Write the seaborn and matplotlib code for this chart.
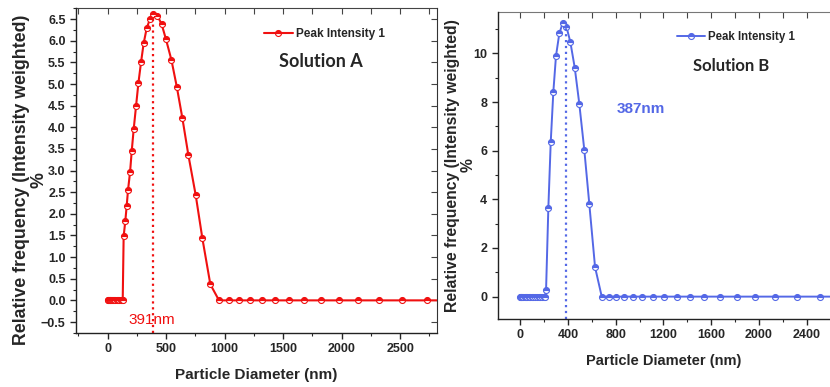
import matplotlib
matplotlib.use('Agg')
import matplotlib.pyplot as plt
from matplotlib.ticker import MultipleLocator
import seaborn as sns

sns.set_style('ticks')
plt.rcParams['font.family'] = ['Liberation Sans', 'DejaVu Sans']

# Solution A (red) - particle diameter (nm) vs relative frequency %
a_base_x = [0, 5, 10, 16, 22, 30, 38, 47, 56, 66, 76, 87, 98, 110, 120, 128]
a_peak_x = [136, 150, 162, 173, 191, 205, 222, 242, 262, 285, 307, 333, 361, 390,
            424, 461, 498, 544, 590, 638, 689, 752, 809, 877]
a_peak_y = [1.48, 1.83, 2.18, 2.54, 2.97, 3.45, 3.96, 4.49, 5.02, 5.51, 5.94, 6.29,
            6.50, 6.61, 6.58, 6.38, 6.03, 5.56, 4.94, 4.21, 3.36, 2.43, 1.43, 0.37]
a_tail_x = [951, 1034, 1120, 1216, 1319, 1430, 1550, 1678, 1820, 1977, 2142, 2321,
            2518, 2732, 2965]

# Solution B (blue)
b_base_x = [0, 6, 12, 20, 28, 38, 48, 60, 72, 85, 98, 112, 126, 140, 155, 170,
            185, 200, 209]
b_peak_x = [218, 237, 257, 279, 301, 329, 357, 388, 421, 458, 496, 538, 580, 628]
b_peak_y = [0.28, 3.63, 6.35, 8.43, 9.89, 10.82, 11.24, 11.10, 10.47, 9.41, 7.93,
            6.03, 3.80, 1.21]
b_tail_x = [684, 742, 803, 873, 943, 1024, 1113, 1208, 1311, 1423, 1542, 1671,
            1813, 1967, 2134, 2315, 2510, 2720]

peak_a = 391
peak_b = 387

red = '#f01010'
blue = '#5468e6'

xa = a_base_x + a_peak_x + a_tail_x
ya = [0.0] * len(a_base_x) + a_peak_y + [0.0] * len(a_tail_x)
xb = b_base_x + b_peak_x + b_tail_x
yb = [0.0] * len(b_base_x) + b_peak_y + [0.0] * len(b_tail_x)

fig = plt.figure(figsize=(8.3, 3.87), dpi=100)
ax1 = fig.add_axes([0.0916, 0.140, 0.4346, 0.8386])
ax2 = fig.add_axes([0.5996, 0.1757, 0.4004, 0.7933])


def draw(ax, x, y, col, lw):
    sns.lineplot(x=x, y=y, ax=ax, color=col, lw=lw, marker='o', markersize=4.3,
                 fillstyle='top', markerfacecolor=col, markerfacecoloralt='white',
                 markeredgecolor=col, markeredgewidth=0.8,
                 label='Peak Intensity 1', sort=False, estimator=None, clip_on=True)


draw(ax1, xa, ya, red, 1.5)
draw(ax2, xb, yb, blue, 1.4)

# left panel
ax1.set_xlim(-271, 2812)
ax1.set_ylim(-0.75, 6.75)
ax1.xaxis.set_major_locator(MultipleLocator(500))
ax1.xaxis.set_minor_locator(MultipleLocator(250))
ax1.yaxis.set_major_locator(MultipleLocator(0.5))
ax1.yaxis.set_minor_locator(MultipleLocator(0.25))
ax1.vlines(peak_a, -0.75, 6.61, colors=red, linestyles=':', lw=1.6)
ax1.text(380, -0.45, f'{peak_a}nm', color=red, fontsize=11, ha='center', va='center')
ax1.text(1823, 5.52, 'Solution A', fontsize=13, fontweight='bold', ha='center',
         va='center', family=['Lato', 'DejaVu Sans'])

# right panel
ax2.set_xlim(-187, 2594)
ax2.set_ylim(-0.92, 11.7)
ax2.xaxis.set_major_locator(MultipleLocator(400))
ax2.xaxis.set_minor_locator(MultipleLocator(200))
ax2.yaxis.set_major_locator(MultipleLocator(2))
ax2.yaxis.set_minor_locator(MultipleLocator(1))
ax2.vlines(peak_b, -0.92, 11.24, colors=blue, linestyles=':', lw=1.6)
ax2.text(1013, 7.7, f'{peak_b}nm', color=blue, fontsize=11, fontweight='bold',
         ha='center', va='center')
ax2.text(1764, 9.49, 'Solution B', fontsize=12, fontweight='bold', ha='center',
         va='center', family=['Lato', 'DejaVu Sans'])

for ax, fs, yfs in [(ax1, 11, 12.8), (ax2, 10.5, 11.3)]:
    ax.set_xlabel('Particle Diameter (nm)', fontsize=fs, fontweight='bold', labelpad=9)
    ax.set_ylabel('Relative frequency (Intensity weighted)', fontsize=yfs,
                  fontweight='bold')
    ax.tick_params(which='major', direction='out', length=4, width=1, labelsize=9)
    ax.tick_params(which='minor', direction='out', length=2.5, width=0.8)
    for lab in ax.get_xticklabels() + ax.get_yticklabels():
        lab.set_fontweight('bold')
    ax.spines['top'].set_visible(False)
    ax.spines['right'].set_visible(False)
    for s in ['left', 'bottom']:
        ax.spines[s].set_color('#222222')
        ax.spines[s].set_linewidth(1.0)

# second line of the y label
ax1.text(-0.1025, 0.47, '%', transform=ax1.transAxes, rotation=90, ha='center',
         va='center', fontsize=12.8, fontweight='bold')
ax2.text(-0.088, 0.5, '%', transform=ax2.transAxes, rotation=90, ha='center',
         va='center', fontsize=11.3, fontweight='bold')

ax1.legend(loc='center left', bbox_to_anchor=(0.52, 0.921), frameon=False,
           numpoints=1, handlelength=2.45, handletextpad=0.3, borderpad=0,
           borderaxespad=0, prop={'weight': 'bold', 'size': 8.5})
ax2.legend(loc='center left', bbox_to_anchor=(0.54, 0.9195), frameon=False,
           numpoints=1, handlelength=2.4, handletextpad=0.3, borderpad=0,
           borderaxespad=0, prop={'weight': 'bold', 'size': 8.3})

# top spines with inward ticks
for ax, step, col in [(ax1, 250, '#444444'), (ax2, 200, '#777777')]:
    sec = ax.secondary_xaxis('top')
    sec.xaxis.set_major_locator(MultipleLocator(step))
    sec.tick_params(direction='in', length=4, labeltop=False, color='#444444')
    sec.spines['top'].set_color(col)

# right spine of the left panel with inward ticks
secy = ax1.secondary_yaxis('right')
secy.yaxis.set_major_locator(MultipleLocator(0.5))
secy.tick_params(direction='in', length=4, labelright=False, color='#444444')
secy.spines['right'].set_color('#333333')

ax1.yaxis.set_label_coords(-0.127, 0.47)
ax2.yaxis.set_label_coords(-0.114, 0.5)

fig.savefig('out.png', dpi=100)
